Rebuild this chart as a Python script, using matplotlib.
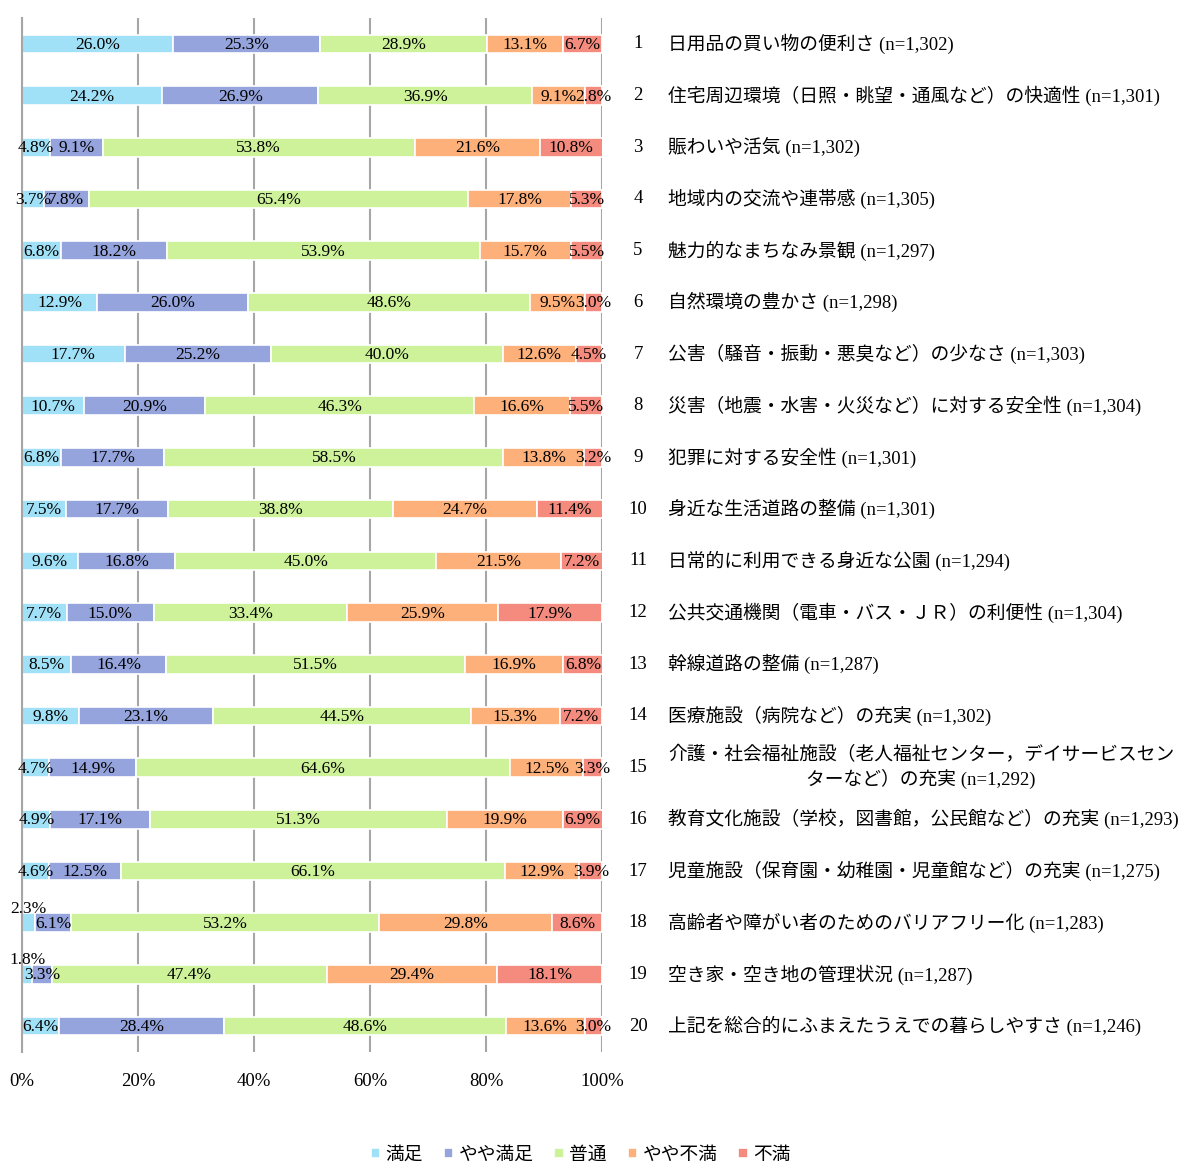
import numpy as np
import matplotlib
matplotlib.use("Agg")
import matplotlib.pyplot as plt

plt.rcParams['font.family'] = ['Liberation Serif', 'Noto Sans CJK JP']

# 満足度（%）: 上から項目1〜20
categories = ["満足", "やや満足", "普通", "やや不満", "不満"]
colors = ["#A0E1F7", "#95A4DC", "#CDF29A", "#FDB07A", "#F48B7E"]

items = [
    "日用品の買い物の便利さ (n=1,302)",
    "住宅周辺環境（日照・眺望・通風など）の快適性 (n=1,301)",
    "賑わいや活気 (n=1,302)",
    "地域内の交流や連帯感 (n=1,305)",
    "魅力的なまちなみ景観 (n=1,297)",
    "自然環境の豊かさ (n=1,298)",
    "公害（騒音・振動・悪臭など）の少なさ (n=1,303)",
    "災害（地震・水害・火災など）に対する安全性 (n=1,304)",
    "犯罪に対する安全性 (n=1,301)",
    "身近な生活道路の整備 (n=1,301)",
    "日常的に利用できる身近な公園 (n=1,294)",
    "公共交通機関（電車・バス・ＪＲ）の利便性 (n=1,304)",
    "幹線道路の整備 (n=1,287)",
    "医療施設（病院など）の充実 (n=1,302)",
    "介護・社会福祉施設（老人福祉センター，デイサービスセン\nターなど）の充実 (n=1,292)",
    "教育文化施設（学校，図書館，公民館など）の充実 (n=1,293)",
    "児童施設（保育園・幼稚園・児童館など）の充実 (n=1,275)",
    "高齢者や障がい者のためのバリアフリー化 (n=1,283)",
    "空き家・空き地の管理状況 (n=1,287)",
    "上記を総合的にふまえたうえでの暮らしやすさ (n=1,246)",
]

manzoku = [26.0, 24.2, 4.8, 3.7, 6.8, 12.9, 17.7, 10.7, 6.8, 7.5,
           9.6, 7.7, 8.5, 9.8, 4.7, 4.9, 4.6, 2.3, 1.8, 6.4]
yaya_manzoku = [25.3, 26.9, 9.1, 7.8, 18.2, 26.0, 25.2, 20.9, 17.7, 17.7,
                16.8, 15.0, 16.4, 23.1, 14.9, 17.1, 12.5, 6.1, 3.3, 28.4]
futsu = [28.9, 36.9, 53.8, 65.4, 53.9, 48.6, 40.0, 46.3, 58.5, 38.8,
         45.0, 33.4, 51.5, 44.5, 64.6, 51.3, 66.1, 53.2, 47.4, 48.6]
yaya_fuman = [13.1, 9.1, 21.6, 17.8, 15.7, 9.5, 12.6, 16.6, 13.8, 24.7,
              21.5, 25.9, 16.9, 15.3, 12.5, 19.9, 12.9, 29.8, 29.4, 13.6]
fuman = [6.7, 2.8, 10.8, 5.3, 5.5, 3.0, 4.5, 5.5, 3.2, 11.4,
         7.2, 17.9, 6.8, 7.2, 3.3, 6.9, 3.9, 8.6, 18.1, 3.0]

series = [manzoku, yaya_manzoku, futsu, yaya_fuman, fuman]

fig = plt.figure(figsize=(11.85, 11.62), dpi=100)
ax = fig.add_axes([0.0186, 0.0947, 0.4895, 0.8898])

n = len(items)
y = np.arange(n)
left = np.zeros(n)
for name, vals, col in zip(categories, series, colors):
    vals = np.array(vals)
    ax.barh(y, vals, left=left, height=0.36, color=col, edgecolor="white",
            linewidth=1.2, label=name, zorder=2)
    for i, v in enumerate(vals):
        cx = left[i] + v / 2
        cy = y[i] + 0.02
        # 満足が極端に小さい行はラベルをバーの上へ
        if name == "満足" and v < 2.5:
            cy = y[i] - 0.27
        ax.text(cx, cy, f"{v:.1f}%", ha="center", va="center",
                fontsize=12.5, zorder=3, clip_on=False)
    left += vals

ax.set_xlim(0, 100)
ax.set_ylim(n - 0.5, -0.5)
ax.set_xticks(np.arange(0, 101, 20))
ax.set_xticklabels([f"{t}%" for t in range(0, 101, 20)], fontsize=13.5)
ax.tick_params(axis="x", length=0, pad=15)
ax.set_yticks([])
ax.grid(axis="x", color="#A6A6A6", linewidth=1.5, zorder=0)
ax.set_axisbelow(True)
for s in ["top", "right", "bottom"]:
    ax.spines[s].set_visible(False)
ax.spines["left"].set_color("#A6A6A6")
ax.spines["left"].set_linewidth(1.5)

# 右側の項目名
for i, label in enumerate(items):
    ax.text(1.062, y[i], str(i + 1), transform=ax.get_yaxis_transform(),
            ha="center", va="center", fontsize=13.5, clip_on=False)
    ax.text(1.1138, y[i], label, transform=ax.get_yaxis_transform(),
            ha="left", va="center", fontsize=13.5, multialignment="center",
            linespacing=1.25, clip_on=False)

fig.legend(loc="lower center", bbox_to_anchor=(0.49, -0.016), ncol=5,
           frameon=False, fontsize=13.5, handlelength=0.5, handleheight=0.5,
           handletextpad=0.3, columnspacing=1.1)

fig.savefig("out.png", dpi=100)
